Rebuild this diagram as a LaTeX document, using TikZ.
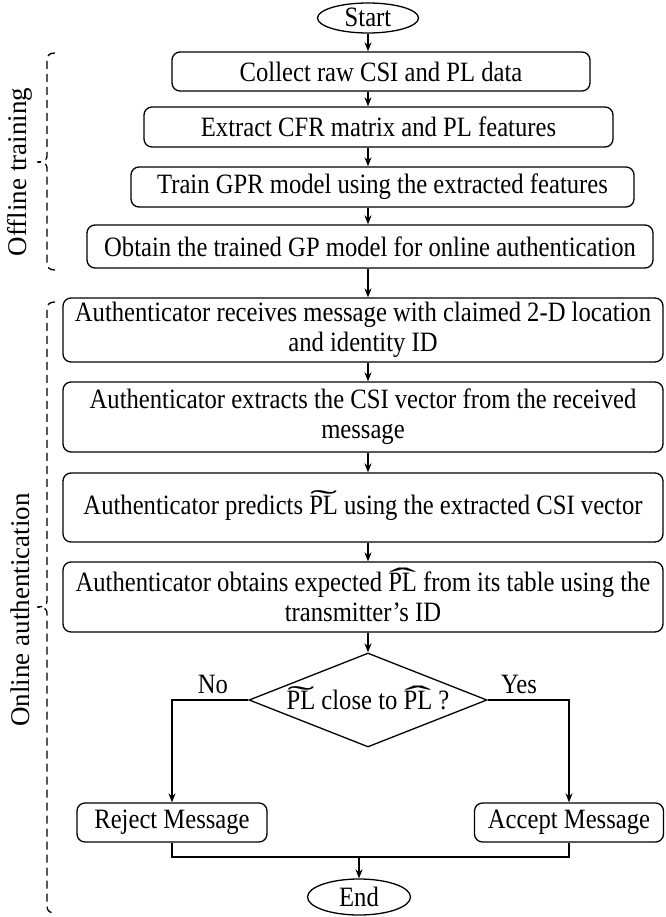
\documentclass[tikz,border=0pt]{standalone}
\usepackage{fontspec}
\usepackage{graphicx}
\setmainfont{Liberation Serif}[FakeStretch=0.88]
\newfontfamily\sidefont{Liberation Serif}
\usetikzlibrary{shapes.geometric,arrows.meta}
\newcommand\boxfont{\fontsize{28}{30}\selectfont}
\newcommand\sidesize{\sidefont\fontsize{27}{30}\selectfont}
\newcommand\accPL[1]{\leavevmode\setbox0\hbox{PL}\rlap{\hbox to\wd0{\hss\raisebox{0.15em}[0pt][0pt]{\scalebox{3.3}[1.0]{#1}}\hss}}\box0}
\newcommand\tPL{\accPL{\char"02DC}}
\newcommand\hPL{\accPL{\char"02C6}}
\begin{document}
\begin{tikzpicture}[x=1pt,y=-1pt,
  box/.style={draw, rounded corners=8pt, line width=1.3pt, inner sep=0pt, align=center, font=\boxfont},
  term/.style={draw, ellipse, line width=1.3pt, inner sep=0pt, font=\boxfont, text height=18pt, text depth=0pt},
  arr/.style={-{Stealth[length=9pt,width=7pt]}, line width=1.3pt},
  bracedash/.style={line width=1.3pt, dash pattern=on 8pt off 5pt},
  lbl/.style={inner sep=0pt, font=\boxfont}]
\useasboundingbox (0,0) rectangle (665,917);
\fill[white] (0,0) rectangle (665,917);
\coordinate (ax) at (368,0);
\coordinate (jl) at (0,857);
% nodes
\node[term, minimum width=101pt, minimum height=30pt] (start) at (368,18) {Start};
\node[box, minimum width=418pt, minimum height=39pt] (b1) at (381,71.5) {Collect raw CSI and PL data};
\node[box, minimum width=469pt, minimum height=40pt] (b2) at (378.5,127) {Extract CFR matrix and PL features};
\node[box, minimum width=503pt, minimum height=40pt] (b3) at (382.5,187) {Train GPR model using the extracted features};
\node[box, minimum width=566pt, minimum height=43pt] (b4) at (370,246.5) {Obtain the trained GP model for online authentication};
\node[box, minimum width=600pt, minimum height=64pt] (b5) at (363,330) {Authenticator receives message with claimed 2-D location\\and identity ID};
\node[box, minimum width=600pt, minimum height=70pt] (b6) at (363,417) {Authenticator extracts the CSI vector from the received\\message};
\node[box, minimum width=600pt, minimum height=69pt] (b7) at (363,507.5) {Authenticator predicts \tPL{} using the extracted CSI vector};
\node[box, minimum width=600pt, minimum height=70pt] (b8) at (363,597) {Authenticator obtains expected \hPL{} from its table using the\\transmitter's ID};
\node[draw, diamond, aspect=2.5, line width=1.3pt, inner sep=0pt, minimum width=238pt, minimum height=94pt, font=\boxfont] (dec) at (368,700) {\tPL{} close to \hPL{} ?};
\node[box, minimum width=190pt, minimum height=39pt] (rej) at (172,822.5) {Reject Message};
\node[box, minimum width=189pt, minimum height=39pt] (acc) at (569,822.5) {Accept Message};
\node[term, minimum width=103pt, minimum height=36pt] (end) at (359,897) {End};
\node[lbl] (no) at (213,684) {No};
\node[lbl] (yes) at (519,684) {Yes};
\node[inner sep=0pt, rotate=90, font=\sidesize] (off) at (20,172) {Offline training};
\node[inner sep=0pt, rotate=90, font=\sidesize] (on) at (20,610) {Online authentication};
% connectors
\draw[arr] (start.south) -- (start.south |- b1.north);
\draw[arr] (b1.south -| ax) -- (b2.north -| ax);
\draw[arr] (b2.south -| ax) -- (b3.north -| ax);
\draw[arr] (b3.south -| ax) -- (b4.north -| ax);
\draw[arr] (b4.south -| ax) -- (b5.north -| ax);
\draw[arr] (b5.south -| ax) -- (b6.north -| ax);
\draw[arr] (b6.south -| ax) -- (b7.north -| ax);
\draw[arr] (b7.south -| ax) -- (b8.north -| ax);
\draw[arr] (b8.south -| ax) -- (dec.north);
\draw[arr] (dec.west) -| (rej.north);
\draw[arr] (dec.east) -| (acc.north);
\draw[line width=1.3pt] (rej.south) -- (rej.south |- jl) -| (acc.south);
\draw[arr] (end.north |- jl) -- (end.north);
% braces
\draw[bracedash] (55,53) .. controls (50,53) and (47,55) .. (47,60) -- (47,156)
  .. controls (47,160) and (44,162) .. (37,162) .. controls (44,162) and (47,164) .. (47,168)
  -- (47,263) .. controls (47,268) and (50,270) .. (55,270);
\draw[bracedash] (55,302) .. controls (50,302) and (47,304) .. (47,309) -- (47,601)
  .. controls (47,605) and (44,607) .. (37,607) .. controls (44,607) and (47,609) .. (47,613)
  -- (47,906) .. controls (47,911) and (50,913) .. (55,913);
\end{tikzpicture}
\end{document}
